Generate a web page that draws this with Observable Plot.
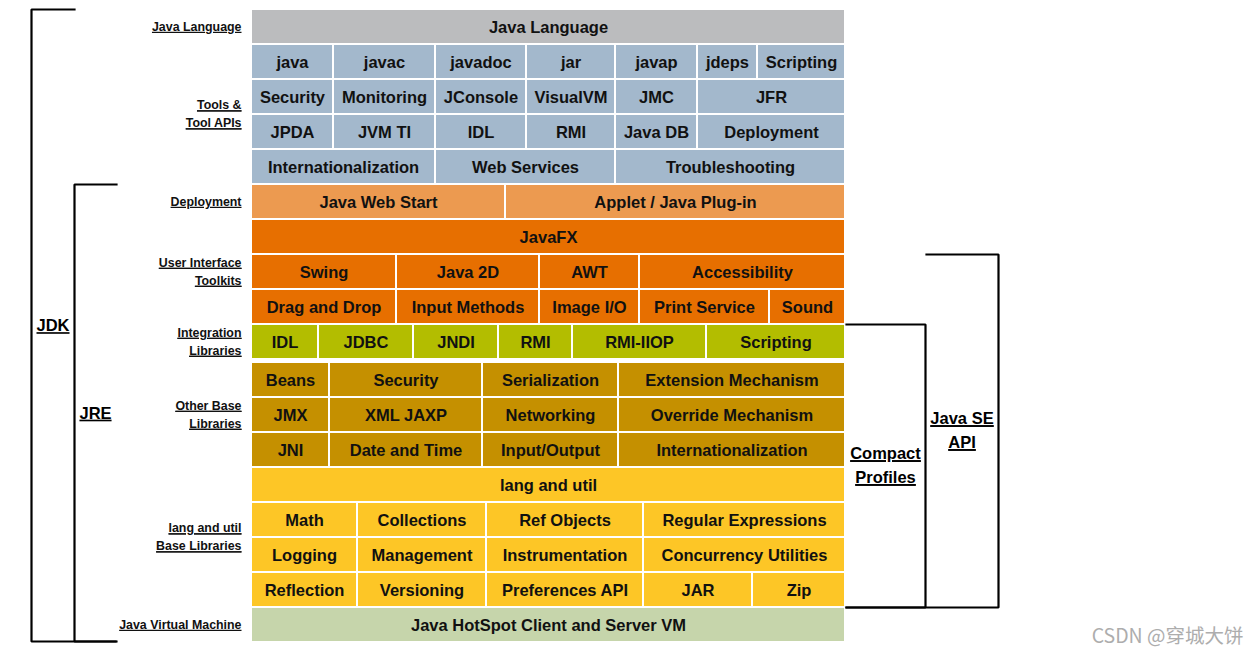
<!DOCTYPE html>
<html>
<head>
<meta charset="utf-8">
<script src="https://cdn.jsdelivr.net/npm/d3@7"></script>
<script src="https://cdn.jsdelivr.net/npm/@observablehq/plot@0.6"></script>
<style>
  html, body { margin: 0; padding: 0; background: #fff; }
  #chart svg { display: block; }
  .underlined text, .underlined tspan,
  g[aria-description="underlined"] text { text-decoration: underline; }
</style>
</head>
<body>
<div id="chart"></div>
<script>
// ---------- content ----------
const javaLanguage   = ["Java Language"];
const toolsRow1      = ["java", "javac", "javadoc", "jar", "javap", "jdeps", "Scripting"];
const toolsRow2      = ["Security", "Monitoring", "JConsole", "VisualVM", "JMC", "JFR"];
const toolsRow3      = ["JPDA", "JVM TI", "IDL", "RMI", "Java DB", "Deployment"];
const toolsRow4      = ["Internationalization", "Web Services", "Troubleshooting"];
const deploymentRow  = ["Java Web Start", "Applet / Java Plug-in"];
const javafxRow      = ["JavaFX"];
const uiRow1         = ["Swing", "Java 2D", "AWT", "Accessibility"];
const uiRow2         = ["Drag and Drop", "Input Methods", "Image I/O", "Print Service", "Sound"];
const integrationRow = ["IDL", "JDBC", "JNDI", "RMI", "RMI-IIOP", "Scripting"];
const otherRow1      = ["Beans", "Security", "Serialization", "Extension Mechanism"];
const otherRow2      = ["JMX", "XML JAXP", "Networking", "Override Mechanism"];
const otherRow3      = ["JNI", "Date and Time", "Input/Output", "Internationalization"];
const langUtilRow    = ["lang and util"];
const langRow1       = ["Math", "Collections", "Ref Objects", "Regular Expressions"];
const langRow2       = ["Logging", "Management", "Instrumentation", "Concurrency Utilities"];
const langRow3       = ["Reflection", "Versioning", "Preferences API", "JAR", "Zip"];
const jvmRow         = ["Java HotSpot Client and Server VM"];

// relative cell widths per row (grid is 594 units wide)
const spanFull   = [594];
const spanTools1 = [82, 102, 91, 89, 82, 60, 88];
const spanTools2 = [82, 102, 91, 89, 82, 148];
const spanTools4 = [184, 180, 230];
const spanDeploy = [254, 340];
const spanUi1    = [145, 143, 100, 206];
const spanUi2    = [145, 143, 100, 130, 76];
const spanInteg  = [67, 95, 85, 74, 134, 139];
const spanOther  = [78, 153, 136, 227];
const spanLang1  = [106, 129, 157, 202];
const spanLang3  = [106, 129, 157, 109, 93];

const layerColors = {
  language: "#bbbcbe", tools: "#a3b8cc", deploy: "#ec9a50", ui: "#e76f00",
  integration: "#b3bd00", other: "#c59000", lang: "#fdc626", jvm: "#c6d5ab"
};

const groupLabels = [
  {text: "Java Language", from: 0, to: 0},
  {text: "Tools &\nTool APIs", from: 1, to: 4},
  {text: "Deployment", from: 5, to: 5},
  {text: "User Interface\nToolkits", from: 6, to: 8},
  {text: "Integration\nLibraries", from: 9, to: 9},
  {text: "Other Base\nLibraries", from: 10, to: 12},
  {text: "lang and util\nBase Libraries", from: 13, to: 16},
  {text: "Java Virtual Machine", from: 17, to: 17}
];

const brackets = [
  {text: "JDK", from: 0, to: 17, side: "left"},
  {text: "JRE", from: 5, to: 17, side: "left"},
  {text: "Compact\nProfiles", from: 9, to: 16, side: "right"},
  {text: "Java SE\nAPI", from: 7, to: 16, side: "right"}
];

const watermark = "CSDN @穿城大饼";

// ---------- table ----------
const rows = [
  [javaLanguage, spanFull, layerColors.language],
  [toolsRow1, spanTools1, layerColors.tools],
  [toolsRow2, spanTools2, layerColors.tools],
  [toolsRow3, spanTools2, layerColors.tools],
  [toolsRow4, spanTools4, layerColors.tools],
  [deploymentRow, spanDeploy, layerColors.deploy],
  [javafxRow, spanFull, layerColors.ui],
  [uiRow1, spanUi1, layerColors.ui],
  [uiRow2, spanUi2, layerColors.ui],
  [integrationRow, spanInteg, layerColors.integration],
  [otherRow1, spanOther, layerColors.other],
  [otherRow2, spanOther, layerColors.other],
  [otherRow3, spanOther, layerColors.other],
  [langUtilRow, spanFull, layerColors.lang],
  [langRow1, spanLang1, layerColors.lang],
  [langRow2, spanLang1, layerColors.lang],
  [langRow3, spanLang3, layerColors.lang],
  [jvmRow, spanFull, layerColors.jvm]
];

// layout
const gridLeft = 251;
const rowTop = i => (i < 10 ? 9 + 35 * i : 362 + 35 * (i - 10));
const rowBottom = i => rowTop(i) + 35;

const cells = [];
rows.forEach(([labels, spans, color], r) => {
  let x = gridLeft;
  labels.forEach((label, k) => {
    cells.push({label, x1: x, x2: x + spans[k], y1: rowTop(r), y2: rowBottom(r), color});
    x += spans[k];
  });
});

const gridRight = gridLeft + spanFull[0];
const leftX = {JDK: [31, 74, 115], JRE: [74, 116, 116]};
const rightX = {"Compact\nProfiles": [gridRight, 925], "Java SE\nAPI": [925, 998]};

const bracketPaths = [];
const bracketText = [];
brackets.forEach(b => {
  const top = rowTop(b.from), bottom = rowBottom(b.to) - 1;
  if (b.side === "left") {
    const [xv, xt, xb] = leftX[b.text];
    bracketPaths.push({id: b.text, x: xt, y: top}, {id: b.text, x: xv, y: top},
                      {id: b.text, x: xv, y: bottom}, {id: b.text, x: xb, y: bottom});
    bracketText.push({text: b.text, x: (xv + xt) / 2, y: (top + bottom) / 2});
  } else {
    const [xa, xv] = rightX[b.text];
    const bottomStart = gridRight + 1;
    bracketPaths.push({id: b.text, x: xa + 1, y: top}, {id: b.text, x: xv, y: top},
                      {id: b.text, x: xv, y: bottom + 1}, {id: b.text, x: bottomStart, y: bottom + 1});
    bracketText.push({text: b.text, x: (xa + xv) / 2, y: (top + bottom) / 2});
  }
});

const FONT = "'Liberation Sans', Arial, Helvetica, sans-serif";

const chart = Plot.plot({
  width: 1258,
  height: 654,
  margin: 0,
  x: {domain: [0, 1258], range: [0, 1258], axis: null},
  y: {domain: [0, 654], range: [0, 654], axis: null},
  color: {type: "identity"},
  style: {fontFamily: FONT, background: "#fff"},
  marks: [
    Plot.rect(cells, {
      x1: "x1", x2: "x2", y1: "y1", y2: "y2", fill: "color",
      insetLeft: 1, insetRight: 1, insetTop: 1, insetBottom: 1
    }),
    Plot.text(cells, {
      x: d => (d.x1 + d.x2) / 2, y: d => (d.y1 + d.y2) / 2, text: "label",
      dy: 1, fontSize: 16.5, fontWeight: "bold", fill: "#111", fontFamily: FONT
    }),
    Plot.text(groupLabels, {
      className: "underlined", ariaDescription: "underlined",
      x: () => 241, y: d => (rowTop(d.from) + rowBottom(d.to)) / 2, text: "text",
      dy: -2, textAnchor: "end", fontSize: 12.4, fontWeight: "bold", lineHeight: 1.45,
      fill: "#111", fontFamily: FONT
    }),
    Plot.line(bracketPaths, {
      x: "x", y: "y", z: "id", stroke: "#000", strokeWidth: 2.2,
      strokeLinejoin: "miter", strokeLinecap: "square", curve: "linear"
    }),
    Plot.text(bracketText, {
      className: "underlined", ariaDescription: "underlined",
      x: "x", y: "y", text: "text", dy: -2, fontSize: 16.5, fontWeight: "bold",
      lineHeight: 1.45, fill: "#000", fontFamily: FONT
    }),
    Plot.text([watermark], {
      x: () => 1243, y: () => 636, text: d => d, textAnchor: "end",
      fontSize: 19.5, fill: "#adadad", fontFamily: "'Noto Sans CJK SC', 'Noto Sans', sans-serif"
    })
  ]
});

document.getElementById("chart").appendChild(chart);
// make sure the underline decoration is applied even if the class option is unsupported
d3.select(chart).selectAll("g[aria-description='underlined'] text")
  .style("text-decoration", "underline");
</script>
</body>
</html>
